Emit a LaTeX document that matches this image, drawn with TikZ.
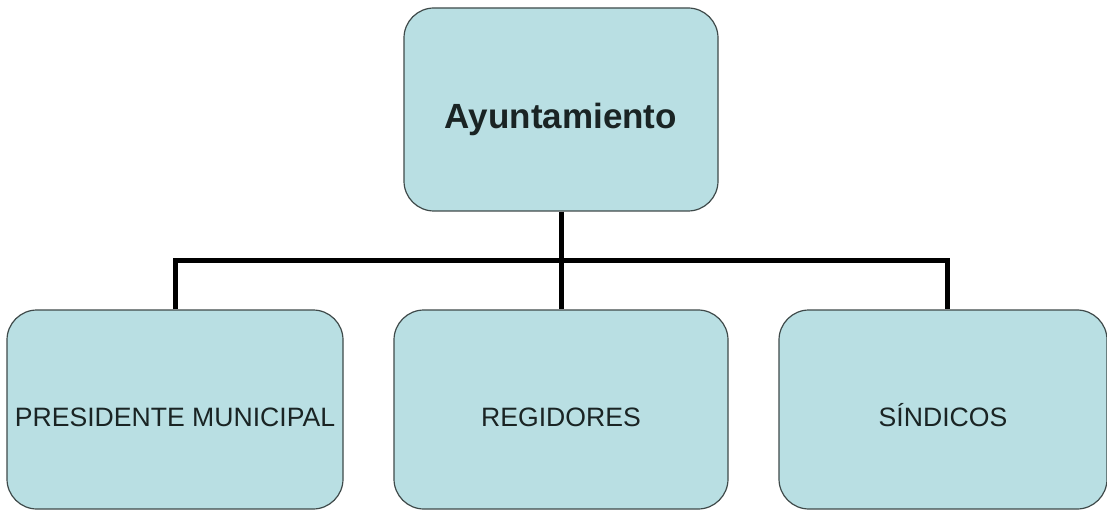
\documentclass[tikz,border=0pt]{standalone}
\usepackage{fontspec}
\setmainfont{Liberation Sans}
\usetikzlibrary{calc}
\definecolor{boxfill}{HTML}{B9DFE3}
\definecolor{boxline}{HTML}{3F4A4A}
\definecolor{txt}{HTML}{1A2424}
\begin{document}
\begin{tikzpicture}[x=1pt,y=-1pt,
  orgbox/.style={draw=boxline, line width=1.2pt, fill=boxfill, rounded corners=30pt,
    inner sep=0pt, text=txt, align=center},
  lowbox/.style={orgbox, minimum height=199pt, text height=33pt, text depth=0pt,
    font=\fontsize{26.6}{30}\selectfont},
  conn/.style={line width=5pt, draw=black, line join=miter}]
\useasboundingbox (0,0) rectangle (1107,510);
\clip (0,0) rectangle (1107,510);
\fill[white] (0,0) rectangle (1107,510);
\node[orgbox, minimum width=314pt, minimum height=203pt, text height=38pt, text depth=0pt,
  font=\fontsize{35}{40}\selectfont\bfseries] (top) at (561,109.5) {Ayuntamiento};
\node[lowbox, minimum width=336pt] (left) at (175,409.5) {PRESIDENTE MUNICIPAL};
\node[lowbox, minimum width=334pt] (mid) at (561,409.5) {REGIDORES};
\node[lowbox, minimum width=328pt] (right) at (943,409.5) {SÍNDICOS};
\coordinate (j) at ($(top.south)+(0,49)$);
\draw[conn] (top.south) -- (mid.north);
\draw[conn] (left.north) -- (left.north |- j) -- ([xshift=4pt]right.north |- j) -- ([xshift=4pt]right.north);
\end{tikzpicture}
\end{document}
